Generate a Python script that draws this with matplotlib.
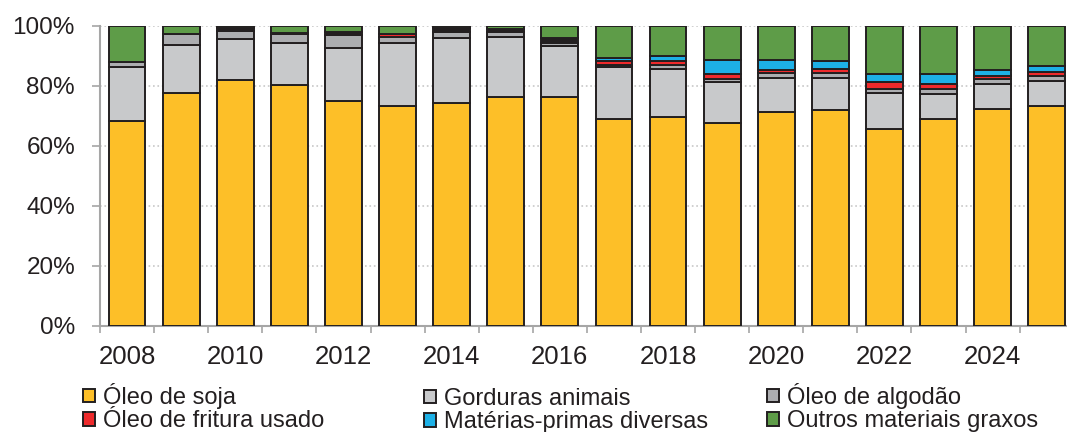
import numpy as np
import matplotlib
matplotlib.use('Agg')
import matplotlib.pyplot as plt

plt.rcParams['font.family'] = ['Liberation Sans', 'DejaVu Sans']

anos = list(range(2008, 2026))

# participacao (%) de cada materia-prima
soja = [68.4, 77.6, 82.0, 80.2, 75.1, 73.3, 74.4, 76.4, 76.4, 68.9, 69.8, 67.8, 71.4, 72.0, 65.7, 69.0, 72.3, 73.3]
gorduras = [17.8, 16.2, 13.8, 14.0, 17.6, 21.1, 21.5, 20.0, 16.9, 17.5, 16.0, 13.6, 11.4, 10.6, 12.1, 8.3, 8.4, 8.5]
algodao = [1.7, 3.5, 2.6, 3.1, 4.4, 2.0, 2.1, 1.7, 0.9, 0.6, 1.1, 1.1, 1.4, 1.7, 1.3, 1.6, 1.7, 1.6]
fritura = [0.0, 0.0, 0.0, 0.0, 0.0, 0.9, 0.0, 0.0, 0.0, 1.2, 1.5, 1.4, 1.1, 1.5, 2.2, 1.7, 1.1, 1.2]
diversas = [0.0, 0.0, 0.0, 0.0, 0.0, 0.0, 0.0, 0.0, 0.0, 1.2, 1.7, 4.9, 3.3, 2.7, 2.6, 3.3, 1.9, 2.1]
escuro = [0.0, 0.0, 0.9, 0.4, 1.0, 0.0, 1.3, 0.9, 1.7, 0.0, 0.0, 0.0, 0.0, 0.0, 0.0, 0.0, 0.0, 0.0]
outros = [12.1, 2.7, 0.7, 2.3, 1.9, 2.7, 0.7, 1.0, 4.1, 10.6, 9.9, 11.2, 11.4, 11.5, 16.1, 16.1, 14.6, 13.3]

series = [
    ('Óleo de soja', soja, '#FDBF28'),
    ('Gorduras animais', gorduras, '#C8C9CB'),
    ('Óleo de algodão', algodao, '#ACADB0'),
    ('Óleo de fritura usado', fritura, '#EE2A2C'),
    ('Matérias-primas diversas', diversas, '#1DB0E6'),
    (None, escuro, '#231F20'),
    ('Outros materiais graxos', outros, '#5E9C48'),
]

fig = plt.figure(figsize=(10.67, 4.32), dpi=100)
ax = fig.add_axes([100 / 1067, 106 / 432, 973.8 / 1067, 300 / 432])

x = np.arange(len(anos))
base = np.zeros(len(anos))
handles = {}
for nome, vals, cor in series:
    vals = np.array(vals)
    b = ax.bar(x, vals, bottom=base, width=0.68, color=cor, edgecolor='#231F20',
               linewidth=1.4, zorder=3)
    if nome:
        handles[nome] = b
    base += vals

ax.set_xlim(-0.5, len(anos) - 0.5)
ax.set_ylim(0, 100)
ax.set_yticks([0, 20, 40, 60, 80, 100])
ax.set_yticklabels([f'{v}%' for v in [0, 20, 40, 60, 80, 100]])
ax.set_xticks(x[::2])
ax.set_xticklabels([str(a) for a in anos[::2]])
ax.set_xticks(np.arange(-0.5, len(anos), 1), minor=True)

ax.yaxis.grid(True, linestyle=':', color='#c8c8c8', linewidth=1.2, zorder=0)
for s in ['top', 'right']:
    ax.spines[s].set_visible(False)
for s in ['left', 'bottom']:
    ax.spines[s].set_color('#a6a6a6')
    ax.spines[s].set_linewidth(1.5)

ax.tick_params(axis='y', length=6, width=1.2, color='#a6a6a6', labelsize=17.5,
               pad=12, labelcolor='#231F20')
ax.tick_params(axis='x', which='major', length=0, labelsize=18.5, pad=14,
               labelcolor='#231F20')
ax.tick_params(axis='x', which='minor', length=5, width=1.2, color='#a6a6a6')

# legenda em tres colunas (x do marcador, y do topo em px)
colunas = [
    (['Óleo de soja', 'Óleo de fritura usado'], 83, 383),
    (['Gorduras animais', 'Matérias-primas diversas'], 424, 388),
    (['Óleo de algodão', 'Outros materiais graxos'], 767, 383),
]
for nomes, px, py in colunas:
    leg = fig.legend([handles[n] for n in nomes], nomes, loc='upper left',
                     bbox_to_anchor=(px / 1067, 1 - py / 432), frameon=False,
                     fontsize=17, handlelength=0.5, handleheight=0.5,
                     handletextpad=0.35, labelspacing=0.05, borderpad=0,
                     borderaxespad=0)
    for t in leg.get_texts():
        t.set_color('#231F20')

fig.savefig('out.png', dpi=100)
